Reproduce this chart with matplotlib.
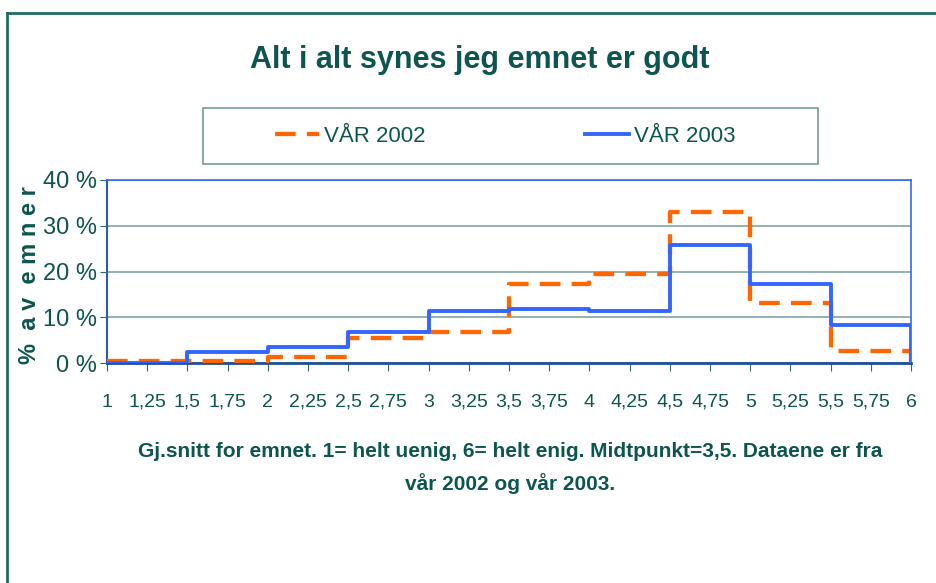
import matplotlib
matplotlib.use('Agg')
import matplotlib.pyplot as plt
from matplotlib.lines import Line2D
from matplotlib.patches import Rectangle

plt.rcParams['font.family'] = ['Liberation Sans Narrow', 'Liberation Sans', 'DejaVu Sans']

# Data: share of courses (%) per 0.5-wide interval of the course average
bin_edges = [1, 1.5, 2, 2.5, 3, 3.5, 4, 4.5, 5, 5.5, 6]
var_2002 = [0.4, 0.4, 1.4, 5.5, 6.8, 17.2, 19.4, 33.1, 13.1, 2.7]
var_2003 = [0.0, 2.5, 3.5, 6.8, 11.3, 11.9, 11.3, 25.8, 17.2, 8.2]
x_ticks = [1 + 0.25 * i for i in range(21)]
y_ticks = [0, 10, 20, 30, 40]

teal = '#0c5550'
orange = '#ff6600'
blue = '#3366ff'
W, H = 937, 583

fig = plt.figure(figsize=(W / 100, H / 100), dpi=100)
ax = fig.add_axes([107 / W, 1 - 363 / H, (911 - 107) / W, (363 - 180) / H])

# step lines, dropping to 0 at the last edge
y02 = var_2002 + [0]
y03 = var_2003 + [0]
ax.step(bin_edges, y02, where='post', color=orange, lw=3.1, dashes=(4.8, 2.6), zorder=3)
ax.step(bin_edges, y03, where='post', color=blue, lw=2.8, zorder=4)

ax.set_xlim(1, 6)
ax.set_ylim(0, 40)
ax.set_yticks(y_ticks)
ax.set_yticklabels([f'{v} %' for v in y_ticks], fontsize=17, color=teal)
ax.set_xticks(x_ticks)
ax.set_xticklabels([f'{v:g}'.replace('.', ',') for v in x_ticks], fontsize=14, color=teal)
ax.tick_params(axis='x', length=6, color='#2a6b66', pad=16)
ax.tick_params(axis='y', length=5, color='#2a6b66', pad=2)
ax.grid(axis='y', color='#7fa5a3', lw=1.2, zorder=1)

ax.spines['top'].set_color(blue)
ax.spines['right'].set_color(blue)
ax.spines['top'].set_linewidth(1.2)
ax.spines['right'].set_linewidth(1.2)
ax.spines['left'].set_color('#2a5ea8')
ax.spines['bottom'].set_color('#1f4f99')
ax.spines['left'].set_linewidth(1.5)
ax.spines['bottom'].set_linewidth(2)

fig.text(30 / W, 1 - 275 / H, '%  a v  e m n e r', rotation=90, ha='center', va='center',
         fontsize=17, fontweight='bold', color=teal)

fig.text(480 / W, 1 - 60 / H, 'Alt i alt synes jeg emnet er godt', ha='center', va='center',
         fontsize=22, fontweight='bold', color=teal)

fig.text(510 / W, 1 - 468 / H, 'Gj.snitt for emnet. 1= helt uenig, 6= helt enig. Midtpunkt=3,5. Dataene er fra\nvår 2002 og vår 2003.',
         ha='center', va='center', fontsize=15, fontweight='bold', color=teal, linespacing=1.75)

# legend box
fig.add_artist(Rectangle((203 / W, 1 - 164 / H), (818 - 203) / W, 56 / H, transform=fig.transFigure,
                         fill=False, edgecolor='#6f9c99', lw=1.2))
handles = [Line2D([], [], color=orange, lw=3.1, dashes=(4.8, 2.6)),
           Line2D([], [], color=blue, lw=2.8)]
leg = fig.legend(handles, ['VÅR 2002', 'VÅR 2003'], loc='center', bbox_to_anchor=(505 / W, 1 - 136 / H),
                 ncol=2, frameon=False, fontsize=16, handlelength=2.0,
                 handletextpad=0.2, columnspacing=7.2, labelcolor=teal)

# outer frame: top and left lines only
fig.add_artist(Line2D([7 / W, 1.0], [1 - 13 / H, 1 - 13 / H], transform=fig.transFigure, color='#1d6b68', lw=2))
fig.add_artist(Line2D([7 / W, 7 / W], [0.0, 1 - 13 / H], transform=fig.transFigure, color='#1d6b68', lw=2))

fig.savefig('out.png', dpi=100)
